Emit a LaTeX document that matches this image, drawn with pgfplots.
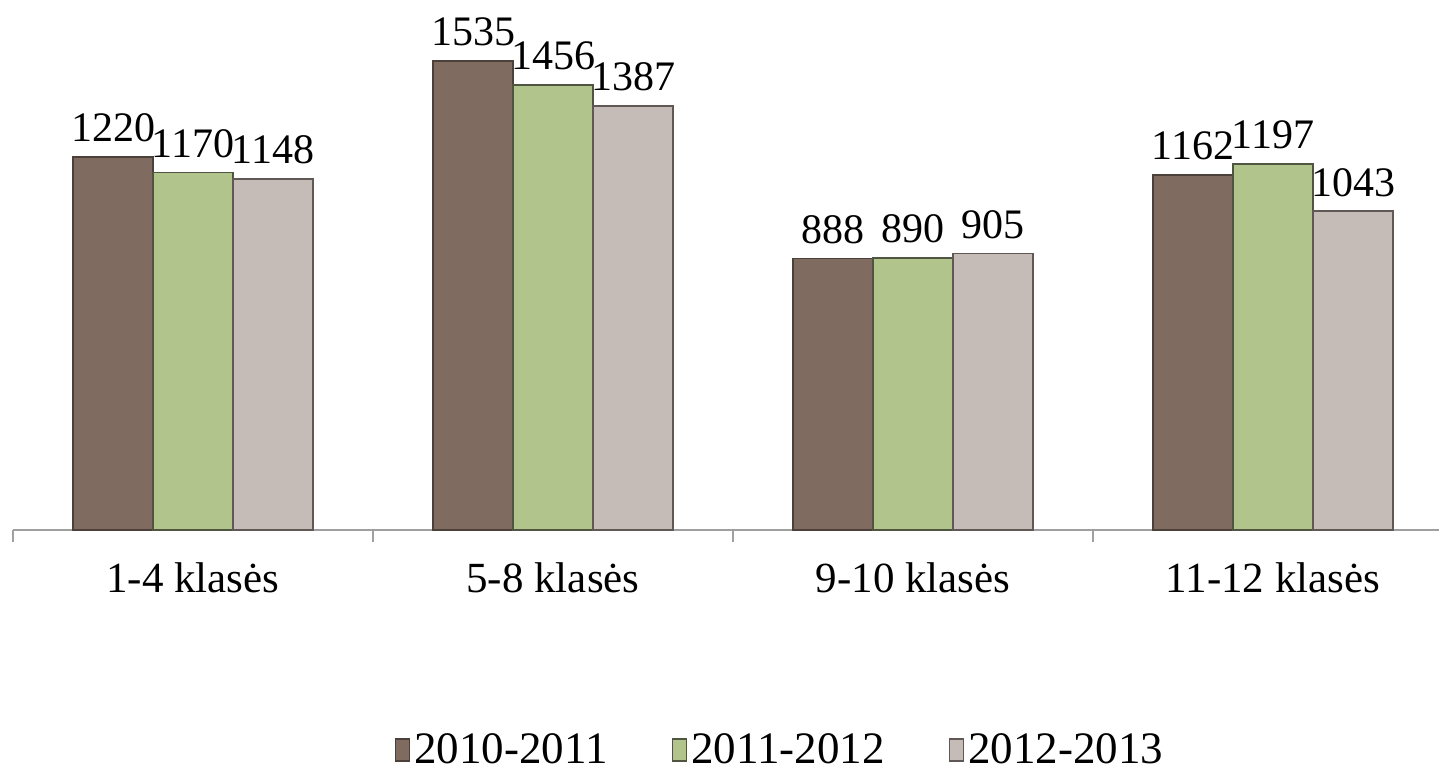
\documentclass[border=0pt]{standalone}
\usepackage{pgfplots}
\pgfplotsset{compat=1.18}
\usepackage{fontspec}
\setmainfont{Liberation Serif}
\definecolor{cA}{RGB}{127,107,96}
\definecolor{cB}{RGB}{177,196,139}
\definecolor{cC}{RGB}{197,188,183}
\definecolor{eA}{RGB}{75,64,58}
\definecolor{eB}{RGB}{80,85,65}
\definecolor{eC}{RGB}{95,88,84}
\definecolor{axgray}{RGB}{160,160,160}
\begin{document}
\begin{tikzpicture}
\begin{axis}[
  scale only axis, width=713pt, height=265pt,
  xmin=-0.5, xmax=3.4611, ymin=0, ymax=1734,
  ybar=0pt, bar width=40pt,
  axis x line*=bottom, axis y line=none,
  x axis line style={axgray, line width=1pt},
  xtick={0,1,2,3},
  xticklabels={1-4 klasės, 5-8 klasės, 9-10 klasės, 11-12 klasės},
  major tick length=0pt,
  minor xtick={-0.5,0.5,1.5,2.5},
  minor tick length=6pt, tick align=outside,
  minor tick style={axgray, line width=1pt},
  xticklabel style={font=\fontsize{21.5}{24}\selectfont, yshift=-13pt},
  /pgf/number format/assume math mode=true,
  /pgf/number format/1000 sep={},
  nodes near coords,
  nodes near coords style={font=\fontsize{21}{24}\selectfont, black, inner sep=2pt, yshift=5pt},
  legend style={draw=none, at={(rel axis cs:0.5386,-0.415)}, anchor=center,
    font=\fontsize{22.5}{25}\selectfont, legend columns=3,
    /tikz/every even column/.append style={column sep=30pt}},
  legend image code/.code={\draw[#1, line width=0.8pt] (0pt,-5.5pt) rectangle (7pt,5.5pt);},
]
\addplot[fill=cA, draw=eA, line width=0.8pt] coordinates {(0,1220) (1,1535) (2,888) (3,1162)};
\addplot[fill=cB, draw=eB, line width=0.8pt] coordinates {(0,1170) (1,1456) (2,890) (3,1197)};
\addplot[fill=cC, draw=eC, line width=0.8pt] coordinates {(0,1148) (1,1387) (2,905) (3,1043)};
\legend{2010-2011, 2011-2012, 2012-2013}
\end{axis}
\pgfresetboundingbox
\path[use as bounding box] ([xshift=-6.5pt,yshift=-124pt]current axis.south west) rectangle (current axis.north east);
\end{tikzpicture}
\end{document}
